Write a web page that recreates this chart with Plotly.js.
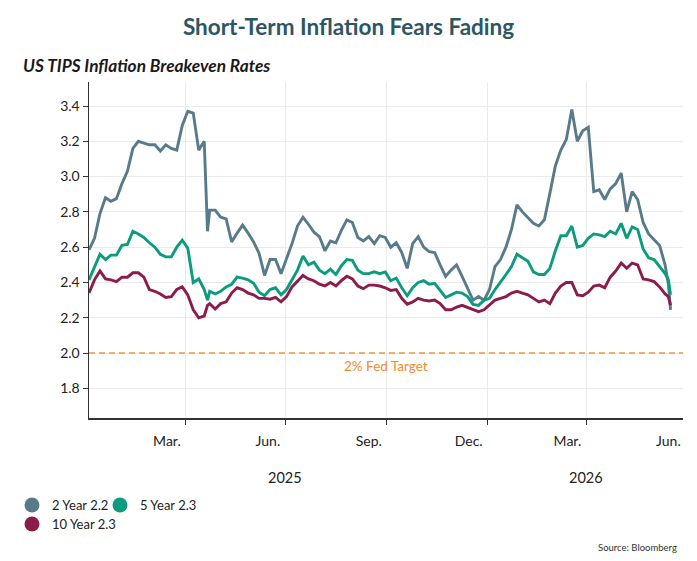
<!DOCTYPE html>
<html>
<head>
<meta charset="utf-8">
<script src="https://cdn.plot.ly/plotly-3.0.1.min.js"></script>
<style>html,body{margin:0;padding:0;background:#fff;}#chart{width:697px;height:561px;}</style>
</head>
<body>
<div id="chart"></div>
<script>
const dates = ["2025-01-03","2025-01-08","2025-01-13","2025-01-18","2025-01-23","2025-01-28","2025-02-02","2025-02-07","2025-02-12","2025-02-17","2025-02-22","2025-02-27","2025-03-04","2025-03-09","2025-03-14","2025-03-19","2025-03-24","2025-03-29","2025-04-03","2025-04-08","2025-04-13","2025-04-18","2025-04-21","2025-04-23","2025-04-28","2025-05-03","2025-05-08","2025-05-13","2025-05-18","2025-05-23","2025-05-28","2025-06-02","2025-06-07","2025-06-12","2025-06-17","2025-06-22","2025-06-27","2025-07-02","2025-07-07","2025-07-12","2025-07-17","2025-07-22","2025-07-27","2025-08-01","2025-08-06","2025-08-11","2025-08-16","2025-08-21","2025-08-26","2025-08-31","2025-09-05","2025-09-10","2025-09-15","2025-09-20","2025-09-25","2025-09-30","2025-10-05","2025-10-10","2025-10-15","2025-10-20","2025-10-25","2025-10-30","2025-11-04","2025-11-09","2025-11-14","2025-11-19","2025-11-24","2025-11-29","2025-12-04","2025-12-09","2025-12-14","2025-12-19","2025-12-24","2025-12-29","2026-01-03","2026-01-08","2026-01-13","2026-01-18","2026-01-23","2026-01-28","2026-02-02","2026-02-07","2026-02-12","2026-02-17","2026-02-22","2026-02-27","2026-03-04","2026-03-09","2026-03-14","2026-03-19","2026-03-24","2026-03-29","2026-04-03","2026-04-08","2026-04-13","2026-04-18","2026-04-23","2026-04-28","2026-05-03","2026-05-08","2026-05-13","2026-05-18","2026-05-23","2026-05-28","2026-06-02","2026-06-07","2026-06-12","2026-06-15","2026-06-17"];

const year2 = [2.585,2.65,2.79,2.88,2.86,2.875,2.96,3.03,3.16,3.2,3.19,3.18,3.18,3.145,3.18,3.16,3.15,3.29,3.37,3.36,3.15,3.2,2.69,2.81,2.81,2.77,2.76,2.63,2.68,2.725,2.68,2.63,2.565,2.44,2.53,2.53,2.45,2.53,2.62,2.72,2.77,2.73,2.685,2.66,2.58,2.635,2.625,2.695,2.755,2.74,2.655,2.635,2.66,2.62,2.665,2.655,2.6,2.625,2.57,2.48,2.62,2.66,2.6,2.575,2.57,2.5,2.435,2.47,2.5,2.435,2.37,2.3,2.32,2.3,2.36,2.49,2.53,2.6,2.7,2.84,2.8,2.77,2.735,2.72,2.755,2.905,3.06,3.15,3.21,3.38,3.2,3.26,3.28,2.915,2.925,2.87,2.93,2.96,3.02,2.8,2.915,2.87,2.74,2.675,2.64,2.61,2.5,2.39,2.245];

const year5 = [2.415,2.49,2.56,2.53,2.555,2.555,2.61,2.615,2.69,2.675,2.655,2.625,2.6,2.56,2.545,2.545,2.6,2.64,2.595,2.4,2.42,2.36,2.3,2.35,2.335,2.35,2.375,2.39,2.43,2.425,2.415,2.395,2.345,2.325,2.36,2.37,2.33,2.36,2.415,2.47,2.55,2.5,2.515,2.47,2.45,2.475,2.445,2.495,2.53,2.525,2.47,2.45,2.45,2.46,2.45,2.46,2.41,2.425,2.37,2.325,2.37,2.4,2.41,2.39,2.395,2.355,2.315,2.33,2.345,2.34,2.32,2.276,2.27,2.3,2.31,2.36,2.4,2.445,2.49,2.56,2.54,2.52,2.46,2.445,2.445,2.48,2.58,2.665,2.665,2.72,2.6,2.61,2.65,2.675,2.67,2.66,2.69,2.675,2.735,2.65,2.715,2.7,2.59,2.54,2.53,2.49,2.45,2.415,2.33];

const year10 = [2.34,2.415,2.465,2.42,2.415,2.405,2.43,2.43,2.455,2.455,2.43,2.36,2.35,2.335,2.315,2.32,2.36,2.375,2.33,2.245,2.2,2.21,2.27,2.28,2.25,2.28,2.29,2.34,2.37,2.36,2.34,2.33,2.31,2.31,2.305,2.315,2.29,2.32,2.375,2.41,2.44,2.42,2.41,2.39,2.38,2.4,2.38,2.41,2.435,2.42,2.38,2.365,2.385,2.385,2.38,2.37,2.355,2.36,2.31,2.276,2.29,2.31,2.3,2.295,2.3,2.28,2.245,2.245,2.26,2.27,2.258,2.245,2.235,2.245,2.275,2.3,2.31,2.32,2.34,2.35,2.34,2.33,2.31,2.29,2.3,2.28,2.34,2.38,2.4,2.4,2.33,2.325,2.345,2.38,2.385,2.37,2.43,2.465,2.51,2.48,2.51,2.5,2.42,2.415,2.405,2.375,2.335,2.32,2.27];

const seriesNames = ["2 Year 2.2","5 Year 2.3","10 Year 2.3"];
const seriesColors = ["#587b8c","#0b9b7d","#8c1d4b"];
const gridTickDates = ["2025-04-01","2025-07-01","2025-10-01","2026-01-01","2026-04-01"];
const monthLabelDates = ["2025-03-15","2025-06-15","2025-09-15","2025-12-15","2026-03-15","2026-06-15"];
const monthLabels = ["Mar.","Jun.","Sep.","Dec.","Mar.","Jun."];
const yearLabelDates = ["2025-07-01","2026-04-01"];
const yearLabels = ["2025","2026"];
const yTicks = [1.8,2.0,2.2,2.4,2.6,2.8,3.0,3.2,3.4];
const fedTarget = 2.0;

const F = "Lato, 'Open Sans', sans-serif";
const allSeries = [year2, year5, year10];
const legendIds = ["legend", "legend2", "legend3"];

const traces = [];
allSeries.forEach((ys, i) => {
  traces.push({
    x: dates, y: ys, type: "scatter", mode: "lines",
    line: {color: seriesColors[i], width: 2.9},
    showlegend: false, hoverinfo: "skip", xaxis: "x", yaxis: "y"
  });
});
seriesNames.forEach((n, i) => {
  traces.push({
    x: [null], y: [null], type: "scatter", mode: "markers",
    marker: {color: seriesColors[i], size: 15},
    name: n, showlegend: true, legend: legendIds[i],
    xaxis: "x", yaxis: "y"
  });
});
traces.push({x: [monthLabelDates[0]], y: [null], type: "scatter", mode: "lines", xaxis: "x2", yaxis: "y", showlegend: false, hoverinfo: "skip"});

const xr = ["2025-01-03", "2026-06-28 08:00"];
const plotL = 89, plotW = 594, plotT = 82, plotH = 336;
const px2paperX = p => (p - plotL) / plotW;
const px2paperY = p => (plotT + plotH - p) / plotH;

const annotations = yearLabels.map((t, i) => ({
  x: yearLabelDates[i], xref: "x", y: px2paperY(477), yref: "paper",
  text: t, showarrow: false, xanchor: "center", yanchor: "middle",
  font: {family: F, size: 14.5, color: "#222"}
}));
annotations.push({
  x: "2025-10-01", xref: "x", y: fedTarget, yref: "y", yanchor: "top", yshift: -3,
  text: "2% Fed Target", showarrow: false, font: {family: F, size: 13.5, color: "#ef8a2e"}
});
annotations.push({
  x: px2paperX(21), xref: "paper", y: px2paperY(66), yref: "paper", xanchor: "left", yanchor: "middle",
  text: "<b><i>US TIPS Inflation Breakeven Rates</i></b>", showarrow: false,
  font: {family: F, size: 17.3, color: "#1a1a1a"}
});
annotations.push({
  x: px2paperX(679), xref: "paper", y: px2paperY(547), yref: "paper", xanchor: "right", yanchor: "middle",
  text: "Source: Bloomberg", showarrow: false, font: {family: F, size: 9.5, color: "#333"}
});

const legendBase = {orientation: "h", xref: "container", yref: "container", xanchor: "left", yanchor: "top",
  font: {family: F, size: 13, color: "#222"}, itemsizing: "trace", bgcolor: "rgba(0,0,0,0)"};

const layout = {
  width: 697, height: 561,
  margin: {l: 89, r: 14, t: 82, b: 143},
  paper_bgcolor: "#fff", plot_bgcolor: "#fff",
  title: {text: "<b>Short-Term Inflation Fears Fading</b>", x: 0.5, xanchor: "center", y: 1 - 27/561, yanchor: "middle", yref: "container",
          font: {family: F, size: 22.5, color: "#2d5663"}},
  xaxis: {
    type: "date", range: xr, tickvals: gridTickDates, ticktext: gridTickDates.map(() => ""),
    showgrid: true, gridcolor: "#ebebeb", gridwidth: 1,
    ticks: "outside", ticklen: 5, tickcolor: "#333", tickwidth: 1,
    showline: true, linecolor: "#333", linewidth: 1.5, zeroline: false, fixedrange: true
  },
  xaxis2: {
    type: "date", range: xr, overlaying: "x", side: "bottom", anchor: "y",
    tickvals: monthLabelDates, ticktext: monthLabels, showgrid: false, ticks: "", showline: false,
    zeroline: false, ticklabelstandoff: 13, tickfont: {family: F, size: 14, color: "#222"}
  },
  yaxis: {
    range: [1.632, 3.536], tickvals: yTicks, tickformat: ".1f",
    showgrid: true, gridcolor: "#ebebeb", gridwidth: 1,
    ticks: "outside", ticklen: 5, tickcolor: "#333", tickwidth: 1,
    showline: true, linecolor: "#333", linewidth: 1.5, zeroline: false,
    tickfont: {family: F, size: 14, color: "#222"}
  },
  shapes: [{type: "line", xref: "paper", x0: 0, x1: 1, yref: "y", y0: fedTarget, y1: fedTarget,
            line: {color: "#f0953f", width: 1.5, dash: "6px,4px"}}],
  annotations: annotations,
  legend: Object.assign({}, legendBase, {x: 12/697, y: 1 - 490/561}),
  legend2: Object.assign({}, legendBase, {x: 100/697, y: 1 - 490/561}),
  legend3: Object.assign({}, legendBase, {x: 12/697, y: 1 - 509/561})
};

Plotly.newPlot("chart", traces, layout, {displayModeBar: false, staticPlot: true});
</script>
</body>
</html>
